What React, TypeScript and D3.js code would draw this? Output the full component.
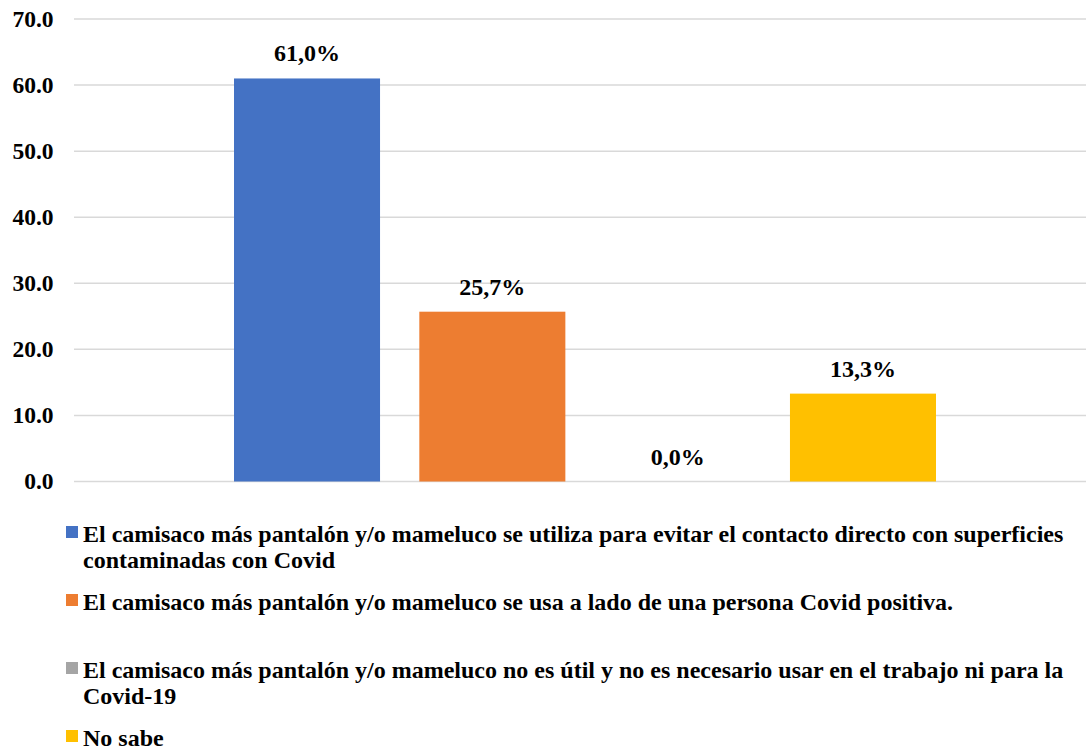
import React, { useRef, useEffect } from "react";
import * as d3 from "d3";

const series = [
  "El camisaco más pantalón y/o mameluco se utiliza para evitar el contacto directo con superficies contaminadas con Covid",
  "El camisaco más pantalón y/o mameluco se usa a lado de una persona Covid positiva.",
  "El camisaco más pantalón y/o mameluco no es útil y no es necesario usar en el trabajo ni para la Covid-19",
  "No sabe",
];
const values = [61.0, 25.7, 0.0, 13.3];
const colors = ["#4472C4", "#ED7D31", "#A5A5A5", "#FFC000"];
const yTicks = [0, 10, 20, 30, 40, 50, 60, 70];

const W = 1086;
const H = 749;
const FONT = "Liberation Serif";

const App: React.FC = () => {
  const svgRef = useRef<SVGSVGElement | null>(null);

  useEffect(() => {
    if (!svgRef.current) return;
    const svg = d3.select(svgRef.current);
    svg.selectAll("*").remove();

    const y = d3.scaleLinear().domain([0, 70]).range([481.5, 19]);
    const x = d3.scaleBand<string>()
      .domain(series)
      .range([234, 936])
      .paddingInner(0.212)
      .paddingOuter(0);

    // gridlines
    svg.append("g")
      .selectAll("line")
      .data(yTicks)
      .enter().append("line")
      .attr("x1", 74)
      .attr("x2", W)
      .attr("y1", d => y(d))
      .attr("y2", d => y(d))
      .attr("stroke", "#d9d9d9")
      .attr("stroke-width", 1.5);

    // y tick labels
    svg.append("g")
      .attr("font-family", FONT)
      .attr("font-weight", "bold")
      .attr("font-size", 23.5)
      .selectAll("text")
      .data(yTicks)
      .enter().append("text")
      .attr("x", 53.5)
      .attr("y", d => y(d) + 7.5)
      .attr("text-anchor", "end")
      .attr("fill", "#000")
      .text(d => d.toFixed(1));

    // bars
    svg.append("g")
      .selectAll("rect")
      .data(values)
      .enter().append("rect")
      .attr("x", (_, i) => x(series[i])!)
      .attr("width", x.bandwidth())
      .attr("y", d => y(d))
      .attr("height", d => y(0) - y(d))
      .attr("fill", (_, i) => colors[i]);

    // data labels
    svg.append("g")
      .attr("font-family", FONT)
      .attr("font-weight", "bold")
      .attr("font-size", 24)
      .selectAll("text")
      .data(values)
      .enter().append("text")
      .attr("x", (_, i) => x(series[i])! + x.bandwidth() / 2)
      .attr("y", d => y(d) - 17)
      .attr("text-anchor", "middle")
      .attr("fill", "#000")
      .text(d => d.toFixed(1).replace(".", ",") + "%");

    // legend
    const maxW = 1010;
    const legend = svg.append("g")
      .attr("font-family", FONT)
      .attr("font-weight", "bold")
      .attr("font-size", 24);
    series.forEach((name, i) => {
      const top = 541.5 + i * 68;
      const g = legend.append("g");
      g.append("rect")
        .attr("x", 66)
        .attr("y", top - 15.5)
        .attr("width", 12)
        .attr("height", 12)
        .attr("fill", colors[i]);
      const text = g.append("text")
        .attr("x", 83)
        .attr("y", top)
        .attr("fill", "#000");
      const words = name.split(" ");
      let line: string[] = [];
      let lineNo = 0;
      let tspan = text.append("tspan").attr("x", 83).attr("y", top);
      words.forEach(w => {
        line.push(w);
        tspan.text(line.join(" "));
        if ((tspan.node() as SVGTSpanElement).getComputedTextLength() > maxW && line.length > 1) {
          line.pop();
          tspan.text(line.join(" "));
          line = [w];
          lineNo++;
          tspan = text.append("tspan").attr("x", 83).attr("y", top + lineNo * 26).text(w);
        }
      });
    });
  }, []);

  return (
    <svg ref={svgRef} width={W} height={H} style={{ position: "absolute", left: 0, top: 0, background: "#fff" }} />
  );
};

export default App;
